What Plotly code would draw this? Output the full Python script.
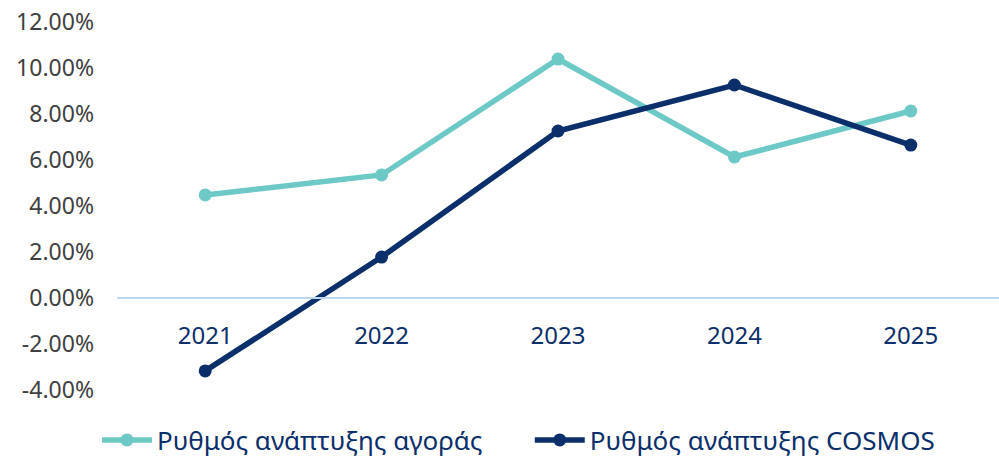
import plotly.graph_objects as go

years = ["2021", "2022", "2023", "2024", "2025"]
market_growth = [4.48, 5.35, 10.39, 6.13, 8.13]
cosmos_growth = [-3.17, 1.78, 7.26, 9.26, 6.65]
ytick_vals = [-4, -2, 0, 2, 4, 6, 8, 10, 12]
ytick_text = ["-4.00%", "-2.00%", "0.00%", "2.00%", "4.00%", "6.00%", "8.00%", "10.00%", "12.00%"]

TEAL = "#6CC9C6"
NAVY = "#0A2F6B"
FONT = "Noto Sans"

fig = go.Figure()
fig.add_trace(go.Scatter(
    x=years, y=market_growth, mode="lines+markers",
    name="Ρυθμός ανάπτυξης αγοράς", legend="legend",
    line=dict(color=TEAL, width=5.5), marker=dict(color=TEAL, size=13),
))
fig.add_trace(go.Scatter(
    x=years, y=cosmos_growth, mode="lines+markers",
    name="Ρυθμός ανάπτυξης COSMOS", legend="legend2",
    line=dict(color=NAVY, width=5.5), marker=dict(color=NAVY, size=13),
))

legend_common = dict(orientation="h", y=-0.136, yanchor="middle", xanchor="left",
                     font=dict(size=26, color=NAVY, family=FONT), itemwidth=50,
                     bgcolor="rgba(0,0,0,0)")

fig.update_layout(
    width=999, height=460,
    margin=dict(l=117, r=0, t=22, b=70, autoexpand=False),
    paper_bgcolor="white", plot_bgcolor="white",
    font=dict(family=FONT),
    showlegend=True,
    legend=dict(x=-0.0227, **legend_common),
    legend2=dict(x=0.468, **legend_common),
    xaxis=dict(type="category", range=[-0.5, 4.5], anchor="free", position=(0 - (-4)) / 16,
               showline=True, linecolor="#BDD7EE", linewidth=2,
               showgrid=False, zeroline=False, ticks="", automargin=False,
               ticklabelstandoff=16,
               tickfont=dict(size=24, color=NAVY, family=FONT)),
    yaxis=dict(range=[-4, 12], tickvals=ytick_vals, ticktext=ytick_text,
               showgrid=False, zeroline=False, showline=False, ticks="", automargin=False,
               ticklabelstandoff=22, ticklabeloverflow="allow",
               tickfont=dict(size=23, color="#404040", family=FONT)),
)

fig.write_html("out.html",
               config={"displayModeBar": False},
               post_script="document.body.style.margin='0';document.body.style.overflow='hidden';")
